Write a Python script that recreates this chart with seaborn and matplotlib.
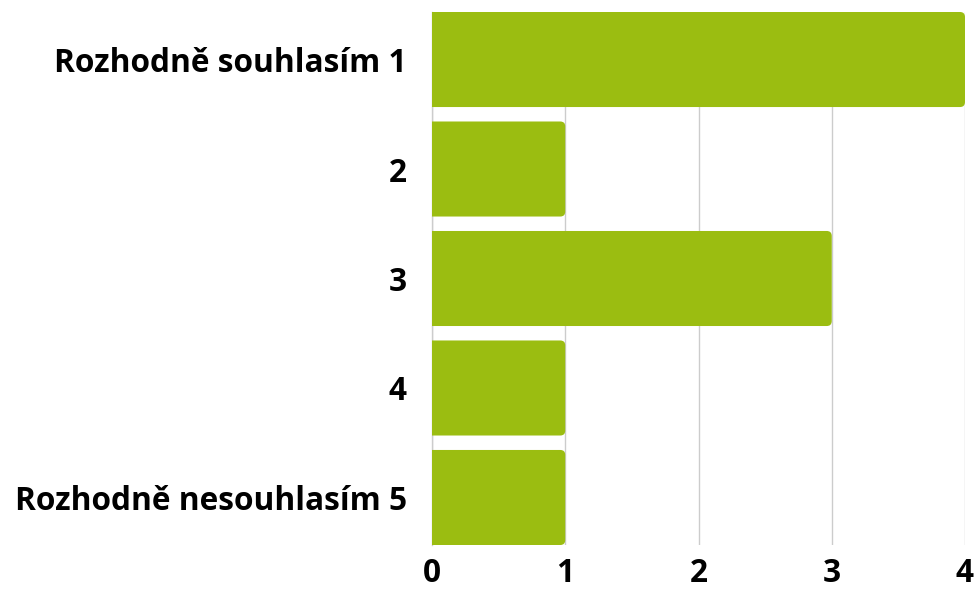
import matplotlib
matplotlib.use("Agg")
import matplotlib.pyplot as plt
from matplotlib.patches import FancyBboxPatch
import seaborn as sns
import pandas as pd

categories = ["Rozhodně souhlasím 1", "2", "3", "4", "Rozhodně nesouhlasím 5"]
values = [4, 1, 3, 1, 1]
x_ticks = [0, 1, 2, 3, 4]

sns.set_theme(style="white")
plt.rcParams['font.family'] = ['Open Sans', 'DejaVu Sans']

df = pd.DataFrame({"cat": categories, "val": values})

fig = plt.figure(figsize=(9.79, 5.95), dpi=100)
ax = fig.add_axes([432/979, 50/595, 533/979, 533/595])

bar_h = 0.868
sns.barplot(data=df, y="cat", x="val", orient="h", color="#9BBD11",
            saturation=1, width=bar_h, ax=ax, zorder=3)

# rounded right-end corners
xpx = 533/4.0
ypx = 533/(4 + bar_h)
r = 5/xpx
aspect = xpx/ypx
for p in list(ax.patches):
    x, y = p.get_x(), p.get_y()
    w, h = p.get_width(), p.get_height()
    fc = p.get_facecolor()
    p.remove()
    fb = FancyBboxPatch((x - 0.3, y), w + 0.3, h,
                        boxstyle=f"round,pad=0,rounding_size={r}",
                        mutation_aspect=aspect, facecolor=fc,
                        edgecolor="none", zorder=3)
    ax.add_patch(fb)

ax.set_xlim(0, 4)
ax.set_ylim(4 + bar_h/2, -bar_h/2)
ax.set_xticks(x_ticks)
ax.set_xticklabels([str(t) for t in x_ticks])
ax.xaxis.grid(True, color="#cccccc", linewidth=1, zorder=0)
ax.yaxis.grid(False)
for s in ["top", "right", "bottom"]:
    ax.spines[s].set_visible(False)
ax.spines["left"].set_color("#cccccc")
ax.spines["left"].set_linewidth(1)
ax.set_xlabel("")
ax.set_ylabel("")
ax.tick_params(axis="y", length=0, pad=18, labelsize=22.8, labelcolor="black")
ax.tick_params(axis="x", length=0, pad=9, labelsize=22.8, labelcolor="black")
for lbl in ax.get_yticklabels() + ax.get_xticklabels():
    lbl.set_fontweight("bold")

fig.savefig("out.png", dpi=100, facecolor="white")
